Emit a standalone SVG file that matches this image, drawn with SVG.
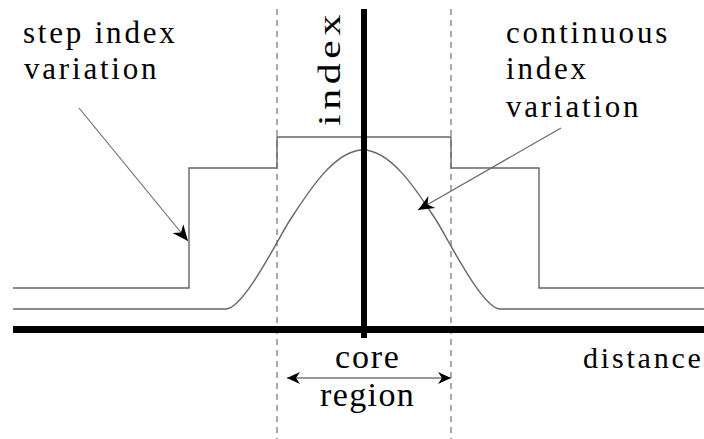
<svg xmlns="http://www.w3.org/2000/svg" width="704" height="439" viewBox="0 0 704 439">
<defs>
<marker id="ah" markerUnits="userSpaceOnUse" markerWidth="20" markerHeight="16" viewBox="-17 -8 18 16" refX="0" refY="0" orient="auto">
<path d="M0,0 L-16,-7 L-11,0 L-16,7 Z" fill="#000"/>
</marker>
<marker id="ah2" markerUnits="userSpaceOnUse" markerWidth="20" markerHeight="16" viewBox="-17 -8 18 16" refX="0" refY="0" orient="auto-start-reverse">
<path d="M0,0 L-13,-6 L-9,0 L-13,6 Z" fill="#000"/>
</marker>
</defs>
<rect width="704" height="439" fill="#fff"/>
<g id="guides" stroke="#555" stroke-width="1" stroke-dasharray="6 5" fill="none">
<line x1="277" y1="9" x2="277" y2="439"/>
<line x1="451" y1="9" x2="451" y2="439"/>
</g>
<g id="step-profile" stroke="#666" stroke-width="1.4" fill="none">
<path d="M13,288 H189 V168 H277 V137 H451 V168 H539 V288 H704"/>
</g>
<g id="graded-profile" stroke="#666" stroke-width="1.4" fill="none">
<path d="M13,309 H226 C244,309 280,235 290,220 C305,197.5 333,150 363,150 C393,150 421,197.5 436,220 C446,235 482,309 500,309 H704"/>
</g>
<g id="axes" stroke="#000" fill="none">
<line x1="13" y1="329.5" x2="704" y2="329.5" stroke-width="7"/>
<line x1="364" y1="9" x2="364" y2="338" stroke-width="6"/>
</g>
<g id="connectors" fill="none">
<line stroke="#666" stroke-width="1.1" x1="79" y1="108" x2="188" y2="241" marker-end="url(#ah)"/>
<line stroke="#666" stroke-width="1.1" x1="561" y1="128" x2="418" y2="210" marker-end="url(#ah)"/>
<line x1="287" y1="378" x2="451" y2="378" stroke="#334" stroke-width="1.2" marker-start="url(#ah2)" marker-end="url(#ah2)"/>
</g>
<g font-family="Liberation Serif" fill="#000">
<g id="label-step" font-size="31" letter-spacing="2.8">
<text x="23" y="43">step index</text>
<text x="24" y="79">variation</text>
</g>
<g id="label-continuous" font-size="31" letter-spacing="2.8">
<text x="506" y="43">continuous</text>
<text x="506" y="79">index</text>
<text x="506" y="117">variation</text>
</g>
<g id="label-index">
<text font-size="31" letter-spacing="3.4" transform="translate(340,126) rotate(-90) scale(1.35,1)">index</text>
</g>
<g id="label-core">
<text font-size="34" letter-spacing="1.8" x="335" y="367.5">core</text>
<text font-size="34" letter-spacing="1.4" x="320" y="406">region</text>
</g>
<g id="label-distance">
<text font-size="30" letter-spacing="2.8" x="583" y="367.5">distance</text>
</g>
</g>
</svg>
